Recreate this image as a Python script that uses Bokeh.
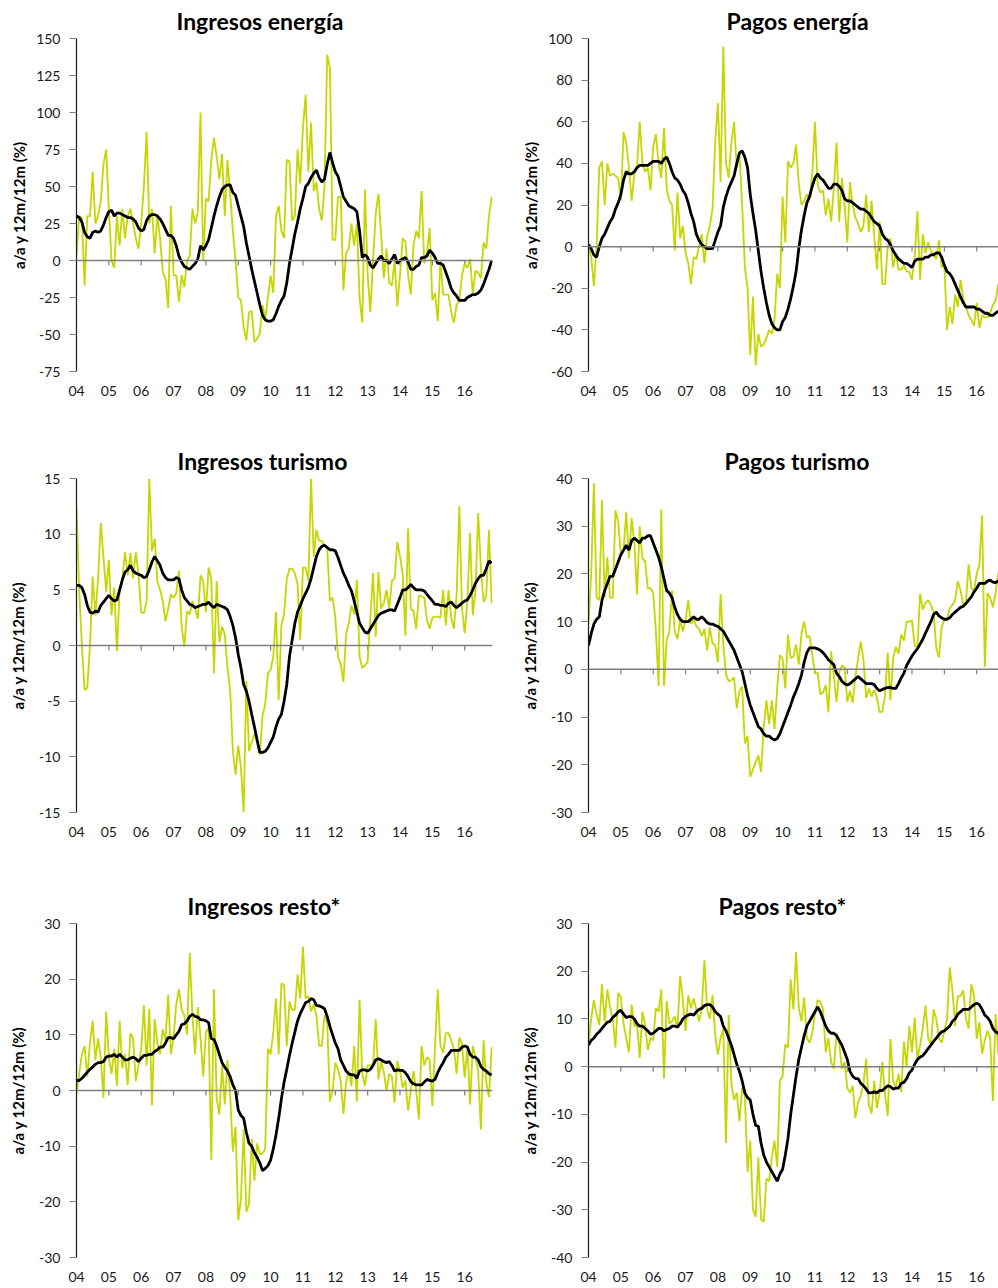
from bokeh.plotting import figure
from bokeh.models import FixedTicker, Span
from bokeh.layouts import column, row
from bokeh.embed import file_html
from bokeh.resources import INLINE

# ---------------- data (monthly, Jan 2004 onward) ----------------
year_ticks = list(range(2004, 2017))
year_labels = ["04", "05", "06", "07", "08", "09", "10", "11", "12", "13", "14", "15", "16"]

titles = ["Ingresos energía", "Pagos energía", "Ingresos turismo", "Pagos turismo",
          "Ingresos resto*", "Pagos resto*"]
y_label = "a/a y 12m/12m (%)"

# Ingresos energía
ie_monthly = [3, 30, 29, -17, 30, 30, 60, 25, 30, 40, 65, 75,
              35, 0, -5, 30, 10, 35, 15, 30, 35, 25, 15, 8,
              25, 50, 87, 25, 35, 5, 30, 15, -8, -12, -32, 37,
              -10, -10, -28, -10, -18, 0, 3, 35, 25, 33, 100, 0,
              42, 40, 68, 83, 70, 55, 72, 30, 68, 45, 20, 0,
              -25, -27, -45, -54, -35, -34, -55, -53, -49, -30, -40, -25,
              -10, -22, 30, 37, 20, 15, 68, 67, 27, 30, 75, 52,
              90, 112, 60, 93, 47, 53, 35, 27, 50, 139, 130, 14,
              14, 43, 43, -20, 5, 8, 25, 10, 25, -25, -42, 48,
              -10, -35, 0, 32, 45, 18, -12, 8, -15, -17, 0, -31,
              -10, 15, 13, -10, -23, 10, 20, 15, 47, -2, 5, 22,
              -27, -22, -41, 0, -23, -23, -23, -35, -42, -30, -27, -10,
              -2, -5, 1, -22, -7, -8, -12, 12, 8, 30, 43]
ie_12m = [30, 29, 26, 19, 16, 15, 19, 20, 19, 20, 24, 29,
          33, 34, 30, 32, 32, 31, 30, 29, 29, 28, 26, 22,
          20, 21, 27, 30, 31, 31, 30, 28, 25, 21, 17, 17,
          15, 10, 3, -1, -4, -5, -6, -4, -2, 1, 10, 7,
          10, 14, 22, 30, 37, 43, 48, 50, 51, 51, 46, 44,
          37, 30, 23, 12, 3, -6, -14, -22, -30, -37, -40, -41,
          -41, -40, -36, -31, -27, -24, -15, -2, 8, 18, 26, 35,
          42, 50, 52, 56, 59, 61, 56, 53, 55, 65, 73, 66,
          60, 57, 50, 43, 40, 37, 36, 35, 33, 20, 2, 4,
          2, -3, -5, -2, 1, 3, 0, 0, -2, 1, 4, -2,
          0, 1, 2, -1, -6, -6, -4, -3, 2, 2, 3, 7,
          5, 2, -2, -2, -3, -8, -13, -19, -22, -24, -27, -27,
          -27, -25, -24, -23, -23, -22, -20, -16, -11, -6, 0]

# Pagos energía
pe_monthly = [0, -5, -19, 0, 38, 41, 20, 40, 34, 35, 34, 33,
              22, 55, 50, 38, 22, 35, 38, 60, 40, 36, 38, 27,
              48, 54, 40, 33, 57, 28, 22, 20, -2, 26, 4, 10,
              -3, -8, -18, -5, -6, 0, 6, -8, 5, 10, 18, 50,
              69, 31, 96, 40, 33, 50, 60, 38, 45, 20, -10, -20,
              -52, -24, -57, -42, -48, -47, -44, -40, -42, -35, -13, -20,
              24, 2, 41, 38, 40, 49, 30, 20, 22, 25, 23, 35,
              60, 30, 26, 27, 15, 23, 12, 28, 50, 12, 33, 20,
              2, 31, 20, 14, 11, 7, 10, 25, 7, 22, 5, -11,
              12, -18, -18, 0, 4, -10, -3, -11, -11, -9, -12, -12,
              -16, -5, 17, -16, 6, -3, 2, -2, -4, -6, 3, -10,
              -8, -40, -29, -37, -23, -29, -16, -25, -29, -33, -35, -38,
              -27, -39, -33, -34, -34, -32, -28, -26, -18]
pe_12m = [1, -1, -4, -5, 0, 4, 6, 9, 12, 14, 18, 21,
          25, 32, 36, 35, 35, 36, 38, 39, 39, 39, 39, 40,
          41, 41, 41, 40, 42, 43, 40, 36, 33, 32, 30, 27,
          25, 21, 16, 12, 6, 3, 1, 0, -1, -1, -1, 3,
          7, 10, 19, 24, 28, 31, 34, 40, 45, 46, 43, 38,
          25, 16, 8, -2, -12, -20, -27, -33, -37, -39, -40, -40,
          -36, -34, -30, -25, -19, -12, -1, 8, 15, 21, 24, 29,
          33, 35, 33, 32, 30, 28, 28, 30, 30, 29, 27, 23,
          22, 22, 21, 20, 19, 18, 18, 17, 16, 14, 12, 11,
          10, 6, 4, 3, 1, -2, -4, -6, -7, -8, -8, -9,
          -10, -7, -6, -6, -6, -5, -5, -4, -4, -3, -3, -5,
          -9, -12, -13, -15, -18, -21, -24, -27, -29, -29, -29, -29,
          -30, -30, -31, -32, -32, -33, -33, -32, -31]

# Ingresos turismo
it_monthly = [12.4, 5, 0, -4, -3.8, 0, 6.2, 2.7, 6, 11, 8, 4.8,
              7.7, 2.7, 5.2, -0.5, 5, 6, 8.4, 6.3, 8.3, 6, 8.4, 6.4,
              3, 2.9, 4, 15, 8.5, 9.6, 5.7, 5, 4, 2.2, 3.3, 4.6,
              4.3, 4.7, 6.7, 1.7, -0.1, 3.1, 2.8, 4, 3.3, 2.4, 6.3, 5.8,
              3, 7, 6, -2.5, 5.8, 0.3, 1.7, 1, -2, -4, -9.5, -11.6,
              -9, -11, -15, -3.2, -9.5, -8.7, -8, -8.5, -9.8, -6.3, -5.3, -2.5,
              -2.2, -1, 3, -4.9, 1.8, 2.8, 6, 6.9, 6.9, 6.5, 5.5, 0.5,
              7, 7, 5.8, 15, 8, 10.4, 9.4, 9.4, 9, 8.7, 4, 4.3,
              2.5, -1, -1.7, -3.3, 1, 2, 3.6, 2.8, 5.9, -1, -2, -1.8,
              -1.5, 2.5, 6.5, 0.8, 6.6, 3.3, 3.8, 5, 3.3, 5.8, 6, 9.3,
              8, 6.4, 0.9, 10.5, 3.3, 3.1, 1.5, 4.5, 4.4, 4.3, 2.3, 1.5,
              2.5, 2.6, 2.6, 2.5, 5, 1.8, 5, 2.5, 1.5, 4.6, 12.5, 3.3,
              1.1, 4, 10.1, 2.7, 5, 11.9, 7, 3.9, 4.5, 10.4, 3.8]
it_12m = [5.4, 5.4, 5.2, 4.6, 3.6, 3, 2.9, 3.1, 3, 3.6, 3.9, 4.2,
          4.5, 4.2, 4, 4.1, 5, 5.9, 6.6, 6.8, 7.2, 6.7, 6.5, 6.4,
          6.3, 6.1, 6.2, 6.8, 7.5, 8, 7.6, 7.2, 6.5, 6.1, 5.9, 5.9,
          5.9, 6.1, 6, 5, 4.3, 4, 3.7, 3.6, 3.4, 3.5, 3.6, 3.7,
          3.7, 3.9, 3.6, 3.4, 3.7, 3.6, 3.5, 3.4, 3.2, 2.6, 1.8, 0.7,
          -0.8, -2, -3.5, -4.1, -5, -6.2, -7.3, -8.5, -9.6, -9.6, -9.5, -9.2,
          -8.7, -8.2, -7.3, -6.6, -6.2, -5, -3.5, -1, 0.5, 2, 3, 3.6,
          4.2, 4.7, 5.2, 6, 7, 8, 8.6, 8.9, 9, 8.8, 8.6, 8.6,
          8.5, 7.9, 7.2, 6.5, 6, 5.4, 4.9, 4, 3, 2, 1.6, 1.2,
          1.1, 1.5, 1.9, 2.3, 2.7, 2.9, 3, 3.1, 3.2, 3.2, 3.1, 3.7,
          4.3, 5, 5, 5.2, 5.5, 5.2, 5, 5, 5, 4.9, 4.6, 4.3,
          4, 3.7, 3.7, 3.6, 3.6, 3.5, 3.8, 3.9, 3.6, 3.4, 3.6, 3.8,
          4, 4.1, 4.5, 5, 5.6, 6, 6.3, 6.3, 6.9, 7.6, 7.4]

# Pagos turismo
pt_monthly = [9.5, 20, 39, 15, 14.5, 35.5, 15, 23.5, 15, 15, 33.3, 31,
              24, 25, 33, 23.3, 31.7, 26.5, 15.7, 30, 23.2, 22.7, 17, 17,
              16, 8, -3.5, 33.5, -3.5, 6, 8, 16.5, 8, 6.3, 10.3, 8,
              10.3, 14.5, 9.5, 10.5, 9, 8.5, 7, 8.5, 4, 8.8, 5.5, 5,
              1.5, 15.8, 5, -1, -2.5, -2.3, -1.7, -8.2, -4.5, -3.6, -15.5, -14,
              -22.5, -21, -19.5, -18, -21.5, -12, -6.5, -11.5, -6.5, -12.5, -4, 3,
              2.2, -4, 7.3, 2.3, 2.7, 5.2, 1, 7.5, 10, 6.7, 7, 3,
              -0.7, -0.7, -5.3, -4.8, -3.3, -9, 3.8, -1.5, -6.8, -0.5, 0.8, 0.4,
              -6.8, -4.5, -7, -1.5, 2.3, 5.8, 2, -6, -4, -5.7, -4.3, -6,
              -9, -8.8, -5.5, 3.5, -6.5, 2.3, 4.7, 3.3, 7.3, 6, 10, 10,
              10.2, 5, 4.5, 15.8, 12.5, 14, 14.5, 13.5, 12, 4.5, 2.5, 8.8,
              10.5, 10.5, 12.8, 13.5, 14.5, 18.5, 16.5, 13.5, 14, 22, 17, 16.5,
              20, 22, 32.3, 0.5, 16, 15, 13, 16, 20, 22.5]
pt_12m = [5, 7.5, 9.5, 10.5, 11, 14.5, 16.5, 18, 19.5, 19.5, 21, 22.5,
          24, 25, 26, 25, 27, 27.5, 27, 26.5, 27.5, 27.5, 28, 28,
          26.5, 25, 23.5, 21.5, 19, 16.5, 16, 15, 13, 11.5, 10.5, 10,
          10, 10, 10.5, 11, 10.5, 10.5, 11, 10.5, 9.8, 9.5, 9.5, 9.2,
          9, 8.5, 8, 7, 6, 5, 4, 2.5, 1, -0.5, -3, -5.5,
          -7.5, -9, -10.5, -12, -12.5, -13.5, -14, -14, -14.5, -14.8, -14.5, -13.5,
          -12, -10.5, -9, -7.5, -5.8, -4.5, -3, -1.2, 1.5, 3.5, 4.5, 4.5,
          4.5, 4.3, 4, 3.5, 2.8, 2, 1.5, 1, -0.8, -1.5, -2.5, -3,
          -3.3, -3, -2.5, -2, -1.5, -2, -2.5, -3, -3, -3, -3.2, -4,
          -4.5, -4.2, -4, -3.8, -3.8, -4, -4, -3, -1.8, -0.8, 0.8, 1.8,
          2.8, 3.6, 4.3, 5.3, 6.3, 7.6, 8.8, 10, 11.5, 12, 11.2, 10.8,
          10.5, 10.5, 10.8, 11.5, 12, 12.5, 13, 13.2, 13.8, 14.5, 15.2, 16.2,
          17, 18, 18, 18, 18.5, 18.7, 18.3, 18.2, 18.5, 19]

# Ingresos resto*
ir_monthly = [-0.7, 3, 6.5, 8, 2.5, 8.5, 12.5, 5.5, 9.3, 6, -1.3, 14.2,
              6, 3, 7.5, 0.8, 12.5, 4, 6.5, 1, 10.3, 9.3, 1.7, 4.5,
              7.3, 15.3, 4.5, 14.7, -2.7, 12.8, 8.5, 6.5, 11, 9, 17.2, 6.5,
              9.5, 15.5, 18.2, 14.5, 13.5, 10, 24.7, 13.5, 6.5, 15, 9.5, 2.5,
              10.5, 11.3, -12.5, 18.2, -1.5, -4.3, 4.5, -2.5, 5.5, -0.7, -11, -6.5,
              -23.3, -19.5, -7, -21.8, -20.3, -8.7, -16.2, -9.5, -11.5, -11.3, -10.5, 7.5,
              6.5, 10.5, 16.5, 6.5, 19.2, 19, 8, 16, 14.5, 14.5, 20.8, 16.5,
              25.8, 16.5, 17, 14.2, 15.5, 13.5, 8, 8, 13.5, 12.2, -2, 0,
              5, 3.8, 1.8, -4.2, 1.5, 3.5, 0.8, 8, -2, 16.3, 3, 0.8,
              4.5, 4.5, 4.5, 12.8, 2, 5.2, 3.3, 0, 3, 2.5, -2.2, 5.3,
              3.5, 0.5, 1.8, -3.6, 0, 3.5, 0, -5.2, 8, 4.5, 6, 5.5,
              -2.8, 8, 18.2, 8, 6.8, 10.3, 10.3, 9, 7.5, 3, 9.5, 8.5,
              2.3, 8, -2.5, 8, 6, 3.5, -7, 9, 1.5, -1.2, 7.8]
ir_12m = [1.8, 1.8, 2.2, 2.7, 3.3, 3.8, 4.2, 4.7, 5, 5, 5.2, 6,
          6.2, 6.2, 6.5, 6, 6.5, 6, 5.5, 5.5, 5.8, 6, 5.7, 5.2,
          5.8, 6.3, 6.3, 6.5, 6.5, 7, 7.3, 7.8, 7.8, 8.5, 9.5, 9.5,
          9.3, 10, 10.6, 11.8, 12, 12.5, 13.3, 13.7, 13.3, 13.2, 12.7, 12.7,
          12.5, 12.2, 9.3, 9.2, 8, 6.5, 5, 4.2, 3.5, 2.5, 1, 0,
          -3.5, -4.5, -5, -7.5, -9.5, -10, -11.2, -12, -13, -14.4, -14, -13.5,
          -12.5, -10.5, -8, -5, -1.5, 1.5, 3.8, 6.3, 8.5, 10.5, 12.5, 13.8,
          14.8, 15.8, 16, 16.5, 16.3, 15.3, 15.2, 15, 14.7, 13.3, 11.5, 10,
          8.5, 7.5, 5.5, 4.5, 3.5, 3, 2.8, 2.8, 2.2, 3.5, 3.7, 3.7,
          3.5, 3.8, 4.5, 5.5, 5.7, 5.5, 5.2, 5, 5.2, 4.5, 3.5, 3.7,
          3.6, 3.6, 3.2, 2.5, 1.6, 1.2, 1, 1, 1, 1.5, 2, 1.8,
          1.7, 2, 3.2, 4.2, 5, 6, 6.5, 7.2, 7.2, 7.2, 7.2, 7.8,
          8, 7.8, 6.5, 6, 6, 5.5, 4.3, 3.8, 3.5, 3, 2.8]

# Pagos resto*
pr_monthly = [4.5, 10, 14, 11, 8.7, 17.3, 9.5, 16.2, 12.5, 10, 4, 15.5,
              14.5, 9, 6, 3, 13, 8.5, 8.8, 1.8, 11.5, 8.8, 3.5, 6,
              5.5, 12.3, 11.5, 16.2, -2.5, 13.8, 9, 9.5, 10.5, 8, 19, 14,
              7.5, 15, 12.3, 14.3, 12, 9.5, 12, 22.3, 12, 10, 15, 6.5,
              2.5, 6, 8, -16, 10.8, -3.5, -7, -5.5, -11.5, -4.5, -6, -22,
              -15.5, -30, -31.5, -19, -32, -32.5, -23.5, -24, -19, -15.5, -21, -3,
              -2, 4.7, 4, 18.3, 12, 24, 12.5, 9.5, 14.5, 6, 5, 7,
              11, 14, 13.5, 12, 3, 6, 1, -0.5, 7, 5, -0.5, 1,
              -4.5, -5.5, -4, -10.8, -7.5, -6, -3.5, 1.7, -8, -9.8, -3, -8.7,
              -5.5, 1, -6, -10.3, 5.8, -3, -4.3, -1.5, -5.3, 5.2, 0, 8.5,
              3, 10.3, 1.5, 4.5, 8, 12.8, 6, 4.5, 12, 10, 6, 5,
              7.5, 10, 20.8, 16, 8.5, 14.8, 14.8, 16, 10, 8, 17.3, 15,
              5.8, 9.3, 2.7, 5.5, 7.5, 6, -7.2, 11, 3, 1.5]
pr_12m = [4.5, 5.5, 6, 6.8, 7.3, 8, 8.7, 9.3, 9.5, 10.3, 10.8, 11.5,
          11.8, 11, 10.3, 10.5, 10.5, 10, 9, 8.5, 8.5, 8, 7.5, 6.8,
          7, 7.5, 8, 8, 7.5, 7.8, 8, 8.5, 8.5, 8.3, 9, 10,
          10.5, 10.8, 11, 10.8, 11.5, 12, 12.2, 12.8, 13, 13, 12.5, 11.5,
          11, 10.5, 8.5, 7.5, 6, 4.5, 2.5, 0.5, -1, -3, -5.5, -6.5,
          -7, -10, -12.3, -12.5, -16, -18.5, -20, -21, -22, -23, -24, -22.5,
          -21.5, -18.5, -15, -10, -6, -2, 1.5, 4, 6.5, 8.5, 9.5, 10.5,
          11.5, 12.5, 11.5, 10, 8.5, 7.5, 7, 7, 6.5, 5.5, 4.5, 3,
          1.5, -1, -2, -2.5, -2.5, -3.5, -4, -4.7, -5.5, -5.5, -5.3, -5.5,
          -5, -5, -4.5, -4, -4.2, -4.7, -4.5, -4.5, -3.5, -3.3, -2.5, -1.3,
          -0.7, 0.5, 1.5, 2, 2.3, 3, 3.8, 4.5, 5.3, 6, 6.7, 7.3,
          7.5, 8, 8.5, 9.5, 10, 11, 11.5, 12, 12, 12, 12.5, 13,
          13.3, 13, 12, 10.8, 10.3, 9.5, 8, 7.3, 7, 6.3]

y_axes = [(-75, 150, 25), (-60, 100, 20), (-15, 15, 5), (-30, 40, 10), (-30, 30, 10), (-40, 30, 10)]
monthly = [ie_monthly, pe_monthly, it_monthly, pt_monthly, ir_monthly, pr_monthly]
smooth = [ie_12m, pe_12m, it_12m, pt_12m, ir_12m, pr_12m]

# ---------------- styling ----------------
GREEN = "#C5D600"
FONT = "Lato"
PX_PER_YEAR = 32.35
FRAME_H = 334
row_h = [440, 445, 403]
row_top = [37, 38, 38]
# left offset of each (left-aligned) title from the frame's left edge, in px
title_offsets = [100, 138, 101, 136, 111, 130]
label_standoffs = [5, 5, 9, 9, 9, 9]


def month_x(n):
    return [2004 + i / 12 for i in range(n)]


def make_panel(i):
    col = i % 2
    r = i // 2
    w = 517 if col == 0 else 481
    mbl = 76 if col == 0 else 71
    mbr = 25 if col == 0 else 0
    h = row_h[r]
    mbt = row_top[r]
    mbb = h - mbt - FRAME_H
    lo, hi, step = y_axes[i]
    x_end = 2004 + (w - mbl - mbr) / PX_PER_YEAR
    p = figure(width=w, height=h, x_range=(2004, x_end), y_range=(lo, hi),
               output_backend="svg", toolbar_location=None,
               min_border_left=mbl, min_border_right=mbr,
               min_border_top=mbt, min_border_bottom=mbb)
    p.background_fill_color = "white"
    p.border_fill_color = "white"
    p.outline_line_color = None
    p.xgrid.visible = False
    p.ygrid.visible = False

    p.title.text = titles[i]
    p.title.align = "left"
    p.title.text_font = FONT
    p.title.text_font_size = "23px"
    p.title.text_font_style = "bold"
    p.title.text_color = "black"
    p.title.offset = title_offsets[i]
    p.title.standoff = 8

    # y axis
    yt = list(range(lo, hi + 1, step))
    p.yaxis.ticker = FixedTicker(ticks=yt)
    p.yaxis.major_label_overrides = {v: str(v) for v in yt}
    p.yaxis.axis_label = y_label
    p.yaxis.axis_label_text_font = FONT
    p.yaxis.axis_label_text_font_size = "15px"
    p.yaxis.axis_label_text_font_style = "bold"
    p.yaxis.axis_label_text_color = "black"
    p.yaxis.axis_label_standoff = label_standoffs[i]
    p.yaxis.major_label_text_font = FONT
    p.yaxis.major_label_text_font_size = "14px"
    p.yaxis.major_label_text_color = "#1a1a1a"
    p.yaxis.axis_line_color = "#1a1a1a"
    p.yaxis.axis_line_width = 1.2
    p.yaxis.major_tick_line_color = "#808080"
    p.yaxis.major_tick_in = 0
    p.yaxis.major_tick_out = 7
    p.yaxis.minor_tick_line_color = None
    p.yaxis.major_label_standoff = 9

    # x axis: labels only at the bottom (Excel "low" position)
    p.xaxis.ticker = FixedTicker(ticks=year_ticks)
    p.xaxis.major_label_overrides = {t: s for t, s in zip(year_ticks, year_labels)}
    p.xaxis.axis_line_color = None
    p.xaxis.major_tick_line_color = None
    p.xaxis.minor_tick_line_color = None
    p.xaxis.major_tick_in = 0
    p.xaxis.major_tick_out = 8
    p.xaxis.major_label_standoff = 6
    p.xaxis.major_label_text_font = FONT
    p.xaxis.major_label_text_font_size = "14px"
    p.xaxis.major_label_text_color = "#1a1a1a"

    # zero line with its tick marks hanging below
    p.add_layout(Span(location=0, dimension="width", line_color="#7f7f7f", line_width=1.5))
    tick_len = 5 * (hi - lo) / FRAME_H
    yrs = year_ticks[1:]
    p.segment(x0=yrs, x1=yrs, y0=[0] * len(yrs), y1=[-tick_len] * len(yrs),
              line_color="#7f7f7f", line_width=1.2)

    g = monthly[i]
    b = smooth[i]
    p.line(month_x(len(g)), g, line_color=GREEN, line_width=1.8)
    p.line(month_x(len(b)), b, line_color="black", line_width=2.8)
    return p


panels = [make_panel(i) for i in range(6)]
layout = column(row(panels[0], panels[1]), row(panels[2], panels[3]), row(panels[4], panels[5]))
open("out.html", "w").write(file_html(layout, INLINE))
